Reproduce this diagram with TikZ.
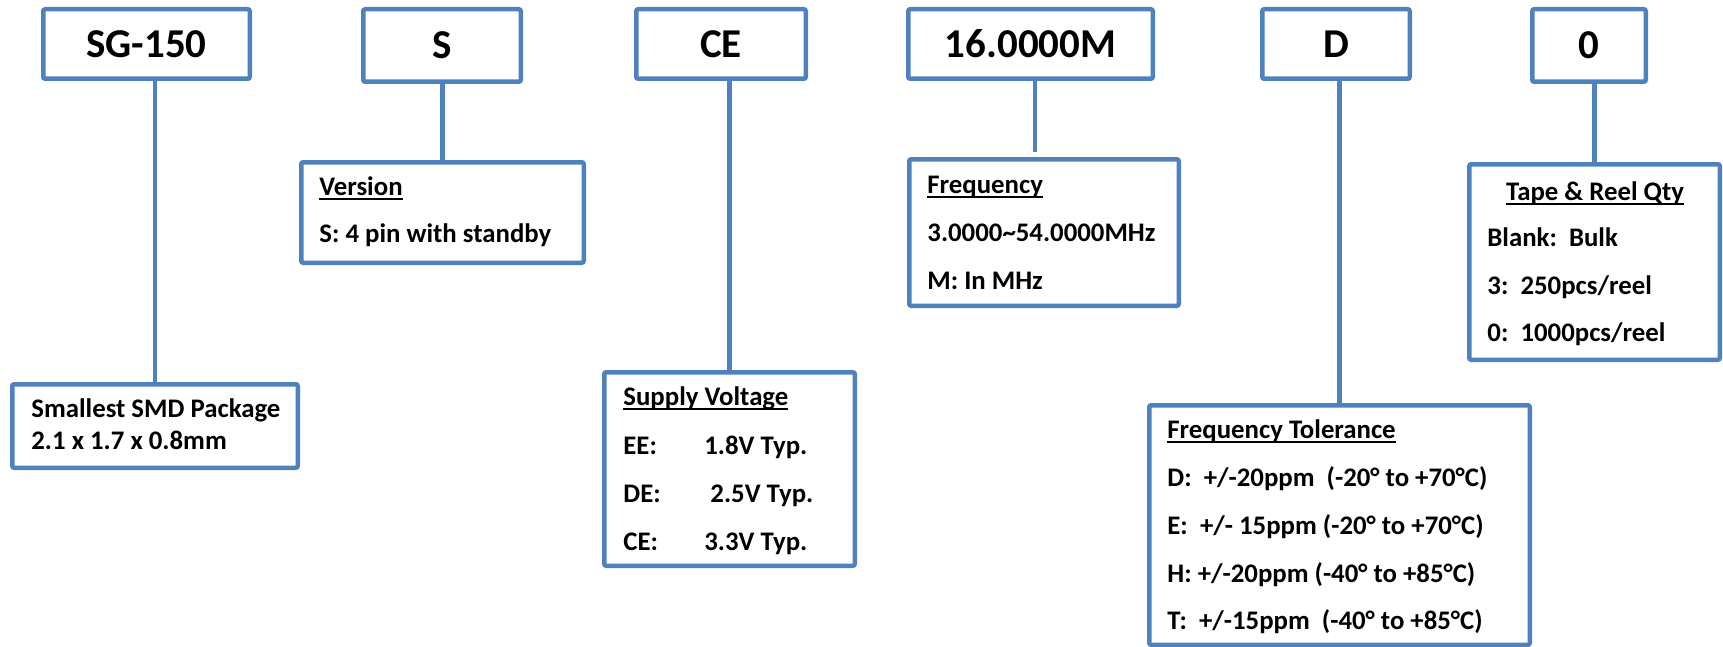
\documentclass[tikz,border=0pt]{standalone}
\usepackage{fontspec}
\setmainfont{Carlito}
\definecolor{partblue}{HTML}{4F81BD}
\newsavebox\headbox
\newcommand{\ulhead}[1]{\sbox\headbox{#1}\rlap{\rule[-2.6pt]{\wd\headbox}{0.9pt}}\usebox\headbox}

\begin{document}
\begin{tikzpicture}[x=0.5pt, y=-0.5pt,
    codebox/.style={draw=partblue, line width=2.25pt, rounded corners=1pt, inner sep=0pt, outer sep=0pt,
      font=\fontsize{20.5}{24}\selectfont\bfseries},
    infobox/.style={draw=partblue, line width=2.25pt, rounded corners=1pt, inner sep=0pt, outer sep=0pt},
    link/.style={draw=partblue, line width=2.25pt},
    info/.style={font=\fontsize{13.4}{24}\selectfont\bfseries, inner sep=0pt, anchor=base west}]
      \useasboundingbox (0,0) rectangle (1723,647);
      %
      % part number fields
      \node[codebox, minimum width=103.25pt, minimum height=34.75pt] (sg)   at (146.5,44) {SG-150};
      \node[codebox, minimum width=78.75pt,  minimum height=36.25pt] (ver)  at (442,45.5) {S};
      \node[codebox, minimum width=84.75pt,  minimum height=34.75pt] (volt) at (721,44)   {CE};
      \node[codebox, minimum width=122.25pt, minimum height=34.75pt] (freq) at (1030.5,44) {16.0000M};
      \node[codebox, minimum width=73.75pt,  minimum height=34.75pt] (tol)  at (1336,44)  {D};
      \node[codebox, minimum width=56.75pt,  minimum height=36.25pt] (qty)  at (1589,45.5) {0};
      %
      % explanation boxes
      \node[infobox, minimum width=142.75pt, minimum height=41.75pt] (pkginfo)  at (155,426) {};
      \node[infobox, minimum width=141.25pt, minimum height=50.25pt] (verinfo)  at (442.5,212.5) {};
      \node[infobox, minimum width=125.25pt, minimum height=96.75pt] (voltinfo) at (729.5,469) {};
      \node[infobox, minimum width=134.75pt, minimum height=73.25pt] (freqinfo) at (1044,232.5) {};
      \node[infobox, minimum width=190.25pt, minimum height=119.75pt] (tolinfo) at (1339.5,525) {};
      \node[infobox, minimum width=125.25pt, minimum height=97.75pt] (qtyinfo)  at (1594.5,262) {};
      %
      \draw[link] (pkginfo.north) -- (pkginfo.north |- sg.south);
      \draw[link] (verinfo.north) -- (verinfo.north |- ver.south);
      \draw[link] (voltinfo.north) -- (voltinfo.north |- volt.south);
      \coordinate (fq) at ([xshift=-4.5pt]freqinfo.north);
      \draw[link] ([yshift=3.5pt]fq) -- (fq |- freq.south);
      \draw[link] (tolinfo.north) -- (tolinfo.north |- tol.south);
      \draw[link] (qtyinfo.north) -- (qtyinfo.north |- qty.south);
      %
      \node[info] (pkg1) at (31,417) {Smallest SMD Package};
      \node[info] (pkg2) at (31,449) {2.1 x 1.7 x 0.8mm};
      %
      \node[info] (ver1) at (319,195) {\ulhead{Version}};
      \node[info] (ver2) at (319,242) {S: 4 pin with standby};
      %
      \node[info] (volt1) at (623,405) {\ulhead{Supply Voltage}};
      \node[info] (volt2) at (623,454) {\makebox[40.5pt][l]{EE:}1.8V Typ.};
      \node[info] (volt3) at (623,502) {\makebox[40.5pt][l]{DE:}\ 2.5V Typ.};
      \node[info] (volt4) at (623,550) {\makebox[40.5pt][l]{CE:}3.3V Typ.};
      %
      \node[info] (freq1) at (927,193) {\ulhead{Frequency}};
      \node[info] (freq2) at (927,241) {3.0000\textasciitilde 54.0000MHz};
      \node[info] (freq3) at (927,289) {M: In MHz};
      %
      \node[info] (tol1) at (1167,438) {\ulhead{Frequency Tolerance}};
      \node[info] (tol2) at (1167,486) {D:~~+/-20ppm~~(-20° to +70°C)};
      \node[info] (tol3) at (1167,534) {E:~~+/- 15ppm (-20° to +70°C)};
      \node[info] (tol4) at (1167,582) {H: +/-20ppm (-40° to +85°C)};
      \node[info] (tol5) at (1167,629) {T:~~+/-15ppm~~(-40° to +85°C)};
      %
      \node[info, anchor=base] (qty1) at (1595,200) {\ulhead{Tape \& Reel Qty}};
      \node[info] (qty2) at (1487,246) {Blank:~~Bulk};
      \node[info] (qty3) at (1487,294) {3:~~250pcs/reel};
      \node[info] (qty4) at (1487,341) {0:~~1000pcs/reel};
      %
    \end{tikzpicture}
\end{document}
